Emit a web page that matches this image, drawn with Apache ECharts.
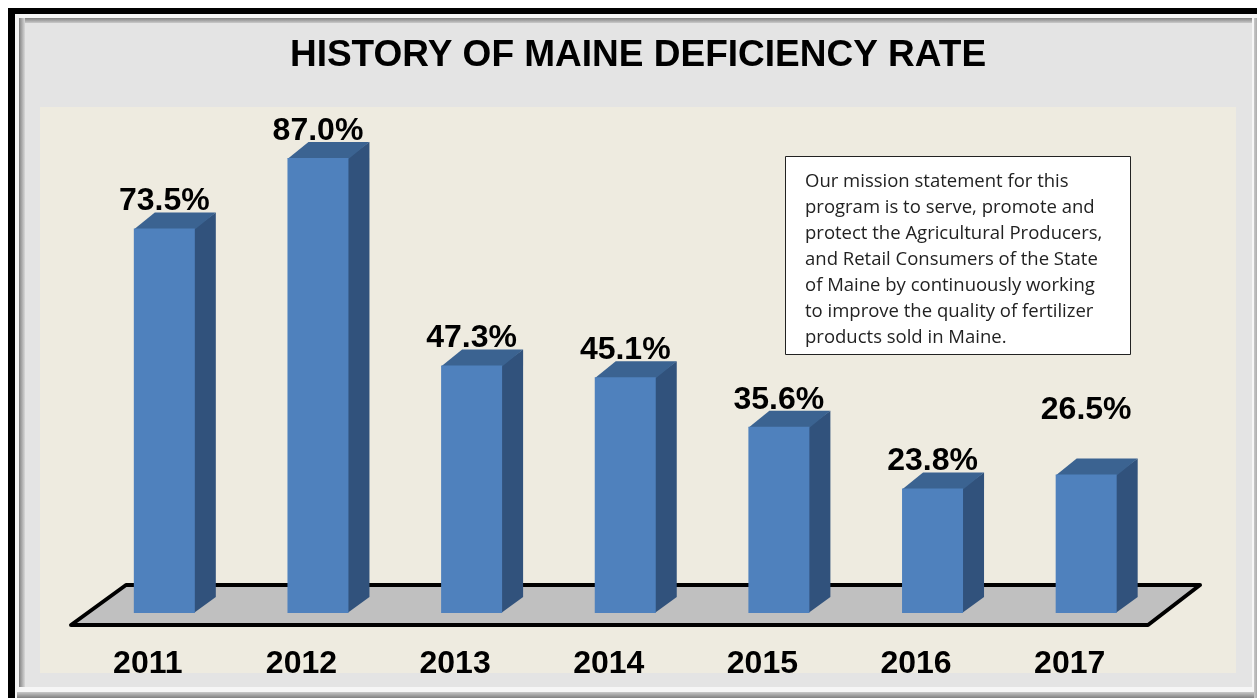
<!DOCTYPE html>
<html lang="en">

<head>
    <meta charset="UTF-8">
    <title>History of Maine Deficiency Rate</title>
    <script src="https://cdn.jsdelivr.net/npm/echarts@6/dist/echarts.min.js"></script>
    <style>
        html,
        body {
            margin: 0;
            background: #fff;
        }

        #chart {
            width: 1257px;
            height: 698px;
        }
    </style>
</head>

<body>
    <div id="chart"></div>
    <script>
        var years = ['2011', '2012', '2013', '2014', '2015', '2016', '2017'];
        var deficiencyRate = [73.5, 87.0, 47.3, 45.1, 35.6, 23.8, 26.5];
        var missionLines = [
            'Our mission statement for this',
            'program is to serve, promote and',
            'protect the Agricultural Producers,',
            'and Retail Consumers of the State',
            'of Maine by continuously working',
            'to improve the quality of fertilizer',
            'products sold in Maine.'
        ];

        var boldFont = '"Liberation Sans", Arial, sans-serif';
        var depthX = 21, depthY = 16;
        var labelGap = 27;
        // the 2017 label sits higher than the others in the original
        var raisedLabels = { '2017': 37 };

        function band(x, y, w, h, fill) {
            return { type: 'rect', z: 0, silent: true, shape: { x: x, y: y, width: w, height: h }, style: { fill: fill } };
        }

        function fade(horizontal, from, to) {
            return new echarts.graphic.LinearGradient(0, 0, horizontal ? 1 : 0, horizontal ? 0 : 1, [
                { offset: 0, color: from },
                { offset: 1, color: to }
            ]);
        }

        function renderBar(params, api) {
            var idx = api.value(0);
            var value = api.value(1);
            var top = api.coord([idx, value]);
            var base = api.coord([idx, 0]);
            var width = api.size([1, 0])[0] * 0.397;
            var left = top[0] - width / 2;
            var right = top[0] + width / 2;
            var lift = raisedLabels[years[idx]] || 0;
            return {
                type: 'group',
                children: [
                    {
                        type: 'polygon',
                        shape: { points: [[right - 1, top[1]], [right + depthX, top[1] - depthY], [right + depthX, base[1] - depthY], [right - 1, base[1]]] },
                        style: { fill: '#31527c' }
                    },
                    {
                        type: 'polygon',
                        shape: { points: [[left, top[1] + 1], [left + depthX, top[1] - depthY], [right + depthX, top[1] - depthY], [right, top[1] + 1]] },
                        style: { fill: '#3b6391' }
                    },
                    {
                        type: 'rect',
                        shape: { x: left, y: top[1], width: width, height: base[1] - top[1] },
                        style: { fill: '#4f81bd' }
                    },
                    {
                        type: 'text',
                        style: {
                            text: value.toFixed(1) + '%',
                            x: top[0],
                            y: top[1] - labelGap - lift,
                            align: 'center',
                            verticalAlign: 'middle',
                            fill: '#000',
                            font: 'bold 32px ' + boldFont
                        }
                    }
                ]
            };
        }

        var chart = echarts.init(document.getElementById('chart'), null, { renderer: 'canvas' });
        chart.setOption({
            animation: false,
            title: {
                text: 'HISTORY OF MAINE DEFICIENCY RATE',
                left: 633,
                top: 32,
                textAlign: 'center',
                textStyle: { fontFamily: boldFont, fontWeight: 'bold', fontSize: 37, color: '#000' }
            },
            grid: { left: 87.5, right: 94, top: 90, bottom: 85 },
            xAxis: {
                type: 'category',
                data: years,
                axisLine: { show: false },
                axisTick: { show: false },
                axisLabel: {
                    interval: 0,
                    margin: 35,
                    padding: [0, 33, 0, 0],
                    fontFamily: boldFont,
                    fontWeight: 'bold',
                    fontSize: 32,
                    color: '#000'
                }
            },
            yAxis: { type: 'value', min: 0, max: 100, show: false },
            series: [{
                type: 'custom',
                renderItem: renderBar,
                encode: { x: 0, y: 1 },
                clip: false,
                data: deficiencyRate.map(function (v, i) { return [i, v]; })
            }],
            graphic: [
                band(8, 8, 1260, 700, '#000'),
                band(15, 14, 1250, 690, '#f6f6f6'),
                band(17, 692, 1245, 6, fade(false, '#c8c8c8', '#808080')),
                band(1254, 18, 6, 680, fade(true, '#c8c8c8', '#909090')),
                band(19, 18, 1233, 6, fade(false, '#808080', '#d8d8d8')),
                band(19, 18, 6, 669, fade(true, '#808080', '#d8d8d8')),
                band(25, 23, 1227, 664, '#e4e4e4'),
                band(40, 107, 1196, 566, '#eeebe0'),
                {
                    type: 'polygon',
                    z: 1,
                    silent: true,
                    shape: { points: [[71, 625], [126, 585], [1200, 585], [1148, 625]] },
                    style: { fill: '#c0c0c0', stroke: '#000', lineWidth: 4, lineJoin: 'round' }
                },
                {
                    type: 'rect',
                    z: 10,
                    silent: true,
                    shape: { x: 785.5, y: 156.5, width: 345, height: 198 },
                    style: { fill: '#fff', stroke: '#222', lineWidth: 1 }
                },
                {
                    type: 'text',
                    z: 11,
                    silent: true,
                    style: {
                        text: missionLines.join('\n'),
                        x: 805,
                        y: 169,
                        fill: '#222',
                        font: '18.5px "Open Sans", sans-serif',
                        lineHeight: 26
                    }
                }
            ]
        });
    </script>
</body>

</html>
